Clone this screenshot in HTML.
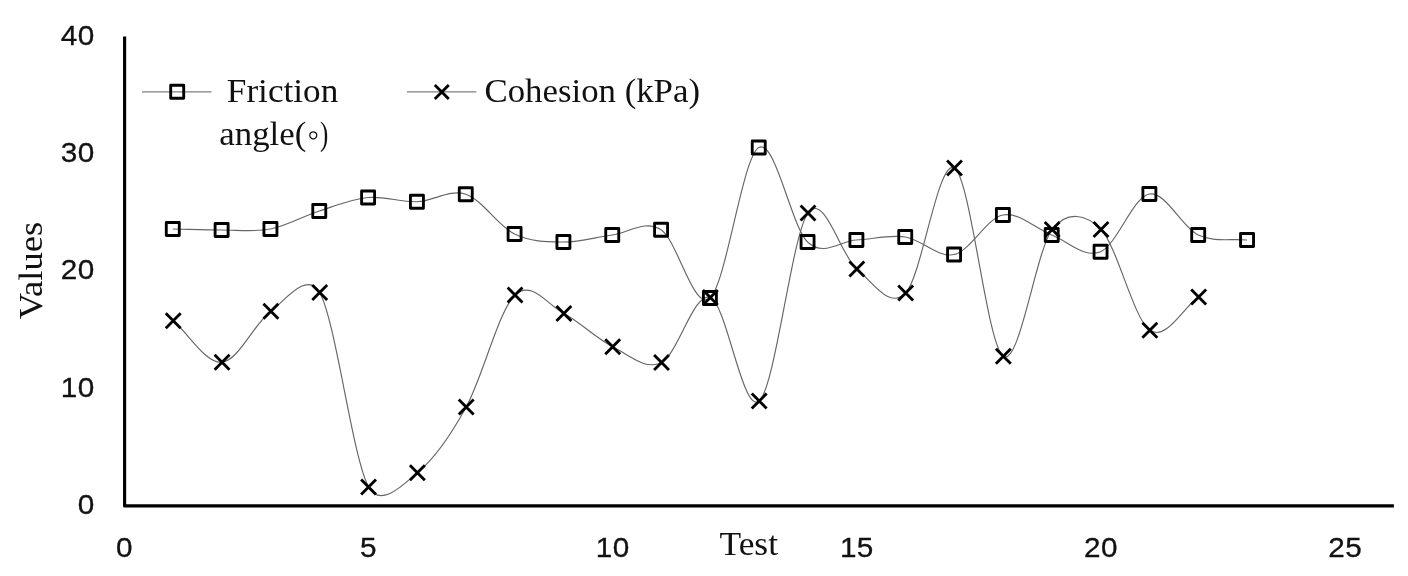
<!DOCTYPE html>
<html lang="en"><head><meta charset="utf-8"><title>Friction angle and cohesion by test</title>
<style>
html,body{margin:0;padding:0;background:#fff;}
body{width:1408px;height:576px;overflow:hidden;}
svg{display:block;}
.num{font-family:"Liberation Sans",sans-serif;font-size:27px;fill:#111;stroke:#111;stroke-width:0.3;letter-spacing:0.4px;}
.ser{font-family:"Liberation Serif",serif;font-size:34px;fill:#111;}
.ln{fill:none;stroke:#666;stroke-width:1.15;}
.lg{fill:none;stroke:#808080;stroke-width:1.1;}
.mk{fill:none;stroke:#000;stroke-width:2.85;stroke-linejoin:round;}
.ax{stroke:#000;stroke-width:3.15;fill:none;stroke-linejoin:round;}
</style></head><body>
<svg width="1408" height="576" viewBox="0 0 1408 576">
<rect width="1408" height="576" fill="#fff"/>
<path class="ax" d="M124.6,36.6V505.9H1393.9"/>
<g class="num"><text transform="translate(94.6,513.85) scale(1.1,1)" text-anchor="end">0</text><text transform="translate(94.6,396.55) scale(1.1,1)" text-anchor="end">10</text><text transform="translate(94.6,279.25) scale(1.1,1)" text-anchor="end">20</text><text transform="translate(94.6,161.95) scale(1.1,1)" text-anchor="end">30</text><text transform="translate(94.6,44.65) scale(1.1,1)" text-anchor="end">40</text><text transform="translate(124.40,556.6) scale(1.1,1)" text-anchor="middle">0</text><text transform="translate(368.55,556.6) scale(1.1,1)" text-anchor="middle">5</text><text transform="translate(612.70,556.6) scale(1.1,1)" text-anchor="middle">10</text><text transform="translate(856.85,556.6) scale(1.1,1)" text-anchor="middle">15</text><text transform="translate(1101.00,556.6) scale(1.1,1)" text-anchor="middle">20</text><text transform="translate(1345.15,556.6) scale(1.1,1)" text-anchor="middle">25</text></g>
<path class="ln" d="M172.78,229.00 C189.06,229.33 205.33,230.00 221.61,230.00 C237.89,230.00 254.16,232.17 270.44,229.00 C286.72,225.83 302.99,216.25 319.27,211.00 C335.55,205.75 351.82,199.04 368.10,197.50 C384.38,195.96 400.65,202.29 416.93,201.75 C433.21,201.21 449.48,188.88 465.76,194.25 C482.04,199.62 498.31,226.04 514.59,234.00 C530.87,241.96 547.14,241.83 563.42,242.00 C579.70,242.17 595.97,237.04 612.25,235.00 C628.53,232.96 644.80,219.25 661.08,229.75 C677.36,240.25 693.63,311.71 709.91,298.00 C726.19,284.29 742.46,156.83 758.74,147.50 C775.02,138.17 791.29,226.58 807.57,242.00 C823.85,257.42 840.12,240.83 856.40,240.00 C872.68,239.17 888.95,234.58 905.23,237.00 C921.51,239.42 937.78,258.17 954.06,254.50 C970.34,250.83 986.61,218.25 1002.89,215.00 C1019.17,211.75 1035.44,228.88 1051.72,235.00 C1068.00,241.12 1084.27,258.58 1100.55,251.75 C1116.83,244.92 1133.10,196.79 1149.38,194.00 C1165.66,191.21 1181.93,227.33 1198.21,235.00 C1214.49,242.67 1230.76,238.33 1247.04,240.00"/>
<path class="ln" d="M173.23,320.75 C189.51,334.58 205.78,363.83 222.06,362.25 C238.34,360.67 254.61,322.88 270.89,311.25 C283.59,302.18 307.02,269.64 319.72,292.50 C336.00,321.79 352.27,456.96 368.55,487.00 C380.67,509.36 405.26,482.67 417.38,472.75 C433.66,459.42 449.93,436.62 466.21,407.00 C482.49,377.38 498.76,310.58 515.04,295.00 C531.32,279.42 547.59,304.88 563.87,313.50 C580.15,322.12 596.42,338.58 612.70,346.75 C628.98,354.92 645.25,370.71 661.53,362.50 C677.81,354.29 694.08,291.08 710.36,297.50 C726.64,303.92 742.91,415.08 759.19,401.00 C775.47,386.92 791.74,235.00 808.02,213.00 C824.30,191.00 840.57,255.67 856.85,269.00 C873.13,282.33 889.40,309.83 905.68,293.00 C921.96,276.17 938.23,157.46 954.51,168.00 C970.79,178.54 987.06,346.00 1003.34,356.25 C1019.62,366.50 1035.89,250.62 1052.17,229.50 C1067.07,210.16 1086.10,214.13 1101.00,229.50 C1117.28,246.29 1133.55,319.00 1149.83,330.25 C1166.11,341.50 1182.38,308.08 1198.66,297.00"/>
<g class="mk"><rect x="166.28" y="222.50" width="13.0" height="13.0"/><rect x="215.11" y="223.50" width="13.0" height="13.0"/><rect x="263.94" y="222.50" width="13.0" height="13.0"/><rect x="312.77" y="204.50" width="13.0" height="13.0"/><rect x="361.60" y="191.00" width="13.0" height="13.0"/><rect x="410.43" y="195.25" width="13.0" height="13.0"/><rect x="459.26" y="187.75" width="13.0" height="13.0"/><rect x="508.09" y="227.50" width="13.0" height="13.0"/><rect x="556.92" y="235.50" width="13.0" height="13.0"/><rect x="605.75" y="228.50" width="13.0" height="13.0"/><rect x="654.58" y="223.25" width="13.0" height="13.0"/><rect x="703.41" y="291.50" width="13.0" height="13.0"/><rect x="752.24" y="141.00" width="13.0" height="13.0"/><rect x="801.07" y="235.50" width="13.0" height="13.0"/><rect x="849.90" y="233.50" width="13.0" height="13.0"/><rect x="898.73" y="230.50" width="13.0" height="13.0"/><rect x="947.56" y="248.00" width="13.0" height="13.0"/><rect x="996.39" y="208.50" width="13.0" height="13.0"/><rect x="1045.22" y="228.50" width="13.0" height="13.0"/><rect x="1094.05" y="245.25" width="13.0" height="13.0"/><rect x="1142.88" y="187.50" width="13.0" height="13.0"/><rect x="1191.71" y="228.50" width="13.0" height="13.0"/><rect x="1240.54" y="233.50" width="13.0" height="13.0"/></g>
<g class="mk"><path d="M165.78,313.30L180.68,328.20M165.78,328.20L180.68,313.30"/><path d="M214.61,354.80L229.51,369.70M214.61,369.70L229.51,354.80"/><path d="M263.44,303.80L278.34,318.70M263.44,318.70L278.34,303.80"/><path d="M312.27,285.05L327.17,299.95M312.27,299.95L327.17,285.05"/><path d="M361.10,479.55L376.00,494.45M361.10,494.45L376.00,479.55"/><path d="M409.93,465.30L424.83,480.20M409.93,480.20L424.83,465.30"/><path d="M458.76,399.55L473.66,414.45M458.76,414.45L473.66,399.55"/><path d="M507.59,287.55L522.49,302.45M507.59,302.45L522.49,287.55"/><path d="M556.42,306.05L571.32,320.95M556.42,320.95L571.32,306.05"/><path d="M605.25,339.30L620.15,354.20M605.25,354.20L620.15,339.30"/><path d="M654.08,355.05L668.98,369.95M654.08,369.95L668.98,355.05"/><path d="M702.91,290.05L717.81,304.95M702.91,304.95L717.81,290.05"/><path d="M751.74,393.55L766.64,408.45M751.74,408.45L766.64,393.55"/><path d="M800.57,205.55L815.47,220.45M800.57,220.45L815.47,205.55"/><path d="M849.40,261.55L864.30,276.45M849.40,276.45L864.30,261.55"/><path d="M898.23,285.55L913.13,300.45M898.23,300.45L913.13,285.55"/><path d="M947.06,160.55L961.96,175.45M947.06,175.45L961.96,160.55"/><path d="M995.89,348.80L1010.79,363.70M995.89,363.70L1010.79,348.80"/><path d="M1044.72,222.05L1059.62,236.95M1044.72,236.95L1059.62,222.05"/><path d="M1093.55,222.05L1108.45,236.95M1093.55,236.95L1108.45,222.05"/><path d="M1142.38,322.80L1157.28,337.70M1142.38,337.70L1157.28,322.80"/><path d="M1191.21,289.55L1206.11,304.45M1191.21,304.45L1206.11,289.55"/></g>
<path class="lg" d="M142,91.9H211.5M407,91.9H476.3"/>
<g class="mk"><rect x="170.7" y="85.2" width="13" height="13"/><path d="M434.8,85L448.8,99M434.8,99L448.8,85"/></g>
<g class="ser">
<text x="226.8" y="102" textLength="111.5" lengthAdjust="spacingAndGlyphs" style="font-size:34.6px">Friction</text>
<text x="219.3" y="145.3" textLength="87" lengthAdjust="spacingAndGlyphs" style="font-size:33px">angle(</text>
<text x="313.3" y="145.8" text-anchor="middle">◦</text>
<text x="320" y="145" textLength="8.3" lengthAdjust="spacingAndGlyphs">)</text>
<text x="484.5" y="101.5" textLength="215.5" lengthAdjust="spacingAndGlyphs">Cohesion (kPa)</text>
<text x="719.5" y="555" textLength="58.5" lengthAdjust="spacingAndGlyphs">Test</text>
<text transform="translate(42,319.3) rotate(-90)" textLength="97.5" lengthAdjust="spacingAndGlyphs">Values</text>
</g>
</svg>
</body></html>
